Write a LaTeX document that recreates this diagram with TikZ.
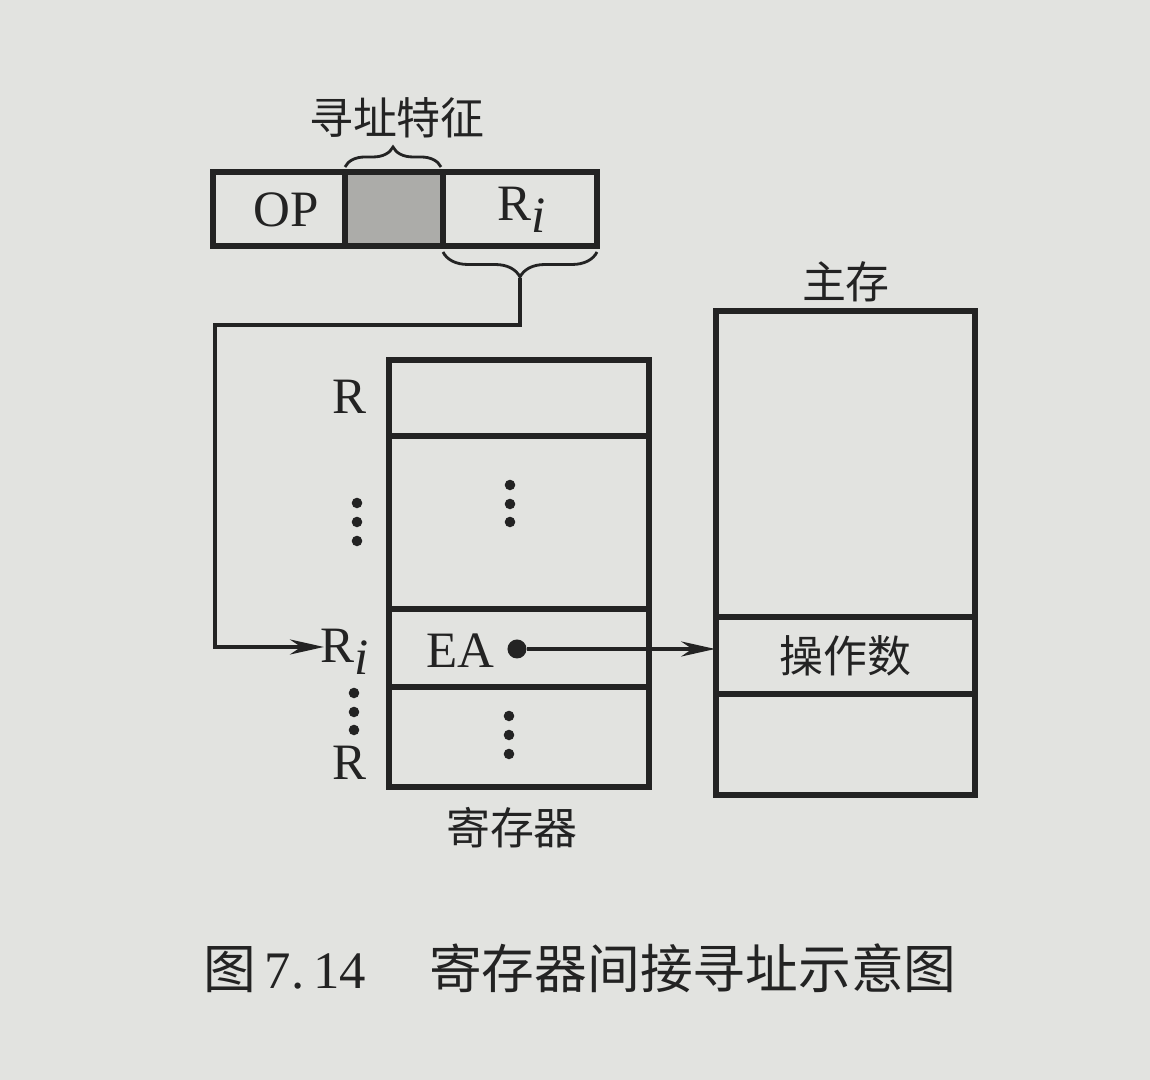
\documentclass[tikz,border=0pt]{standalone}
\usepackage{fontspec}
\setmainfont{Liberation Serif}
\newfontfamily\cjk{Noto Sans CJK SC}
\usepackage{xcolor}
\usetikzlibrary{arrows.meta,decorations.pathreplacing}
\definecolor{paper}{RGB}{226,227,224}
\definecolor{ink}{RGB}{35,35,35}
\definecolor{shade}{RGB}{172,172,169}

\begin{document}
\begin{tikzpicture}[x=0.01cm,y=-0.01cm,>={Stealth[length=3.4mm,width=1.5mm]},
box/.style={line width=1.7pt,draw=ink},
wire/.style={line width=1.1pt,draw=ink},
lab/.style={font=\fontsize{14.5}{17}\selectfont,text=ink,inner sep=1pt},
hz/.style={font=\cjk\fontsize{12.5}{15}\selectfont,text=ink},
brc/.style={decorate,decoration={brace,amplitude=#1},line width=0.8pt,draw=ink},
pt/.style={circle,fill=ink,inner sep=0pt,minimum size=#1}]
\fill[paper](0,0)rectangle(1150,1080);
\useasboundingbox(0,0)rectangle(1150,1080);
% instruction word
\draw[box,fill=shade](345,172)rectangle(443,246);
\draw[box](213,172)rectangle(597,246);
\node[lab](op) at (286,210){OP};
\node[lab](ri0) at (522,210){R\raisebox{-0.5ex}{\itshape i}};
\draw[brc=0.2cm](345,167)--(441,167);
\node[hz](feat) at (397,118){寻址特征};
\draw[brc=0.25cm](597,252)--(443,252);
\coordinate(tip) at (520,278);
% registers
\draw[box](389,360)rectangle(649,787);
\draw[box](389,436)--(649,436) (389,609)--(649,609) (389,687)--(649,687);
\node[lab,anchor=east](r1) at (371,397){R};
\node[lab,anchor=east](ri) at (373,652){R\raisebox{-0.5ex}{\itshape i}};
\node[lab,anchor=east](r2) at (371,763){R};
\coordinate(rin) at (324,647);
\foreach \y in {503,522,541}\node[pt=3pt] at (357,\y){};
\foreach \y in {485,504,522}\node[pt=3pt] at (510,\y){};
\foreach \y in {693,712,730}\node[pt=3pt] at (354,\y){};
\foreach \y in {716,735,754}\node[pt=3pt] at (509,\y){};
\node[lab](ea) at (460,651){EA};
\node[pt=0.19cm](eadot) at (517,649){};
\node[hz](reg) at (512,828){寄存器};
% main memory
\draw[box](716,311)rectangle(975,795);
\draw[box](716,617)--(975,617) (716,694)--(975,694);
\node[hz,minimum width=2.59cm,minimum height=0.77cm,inner sep=0pt](opd) at (845.5,655.5){操作数};
\node[hz](mem) at (846,282){主存};
% connectors
\draw[wire,->](tip)|-(215,325)|-(rin);
\draw[wire,->](eadot)--(eadot-|opd.west);
\node[font=\cjk\fontsize{15}{18}\selectfont,text=ink](cap) at (580,968){图\,{\rmfamily 7.\,14}\hspace{1.2em}寄存器间接寻址示意图};
\end{tikzpicture}
\end{document}
